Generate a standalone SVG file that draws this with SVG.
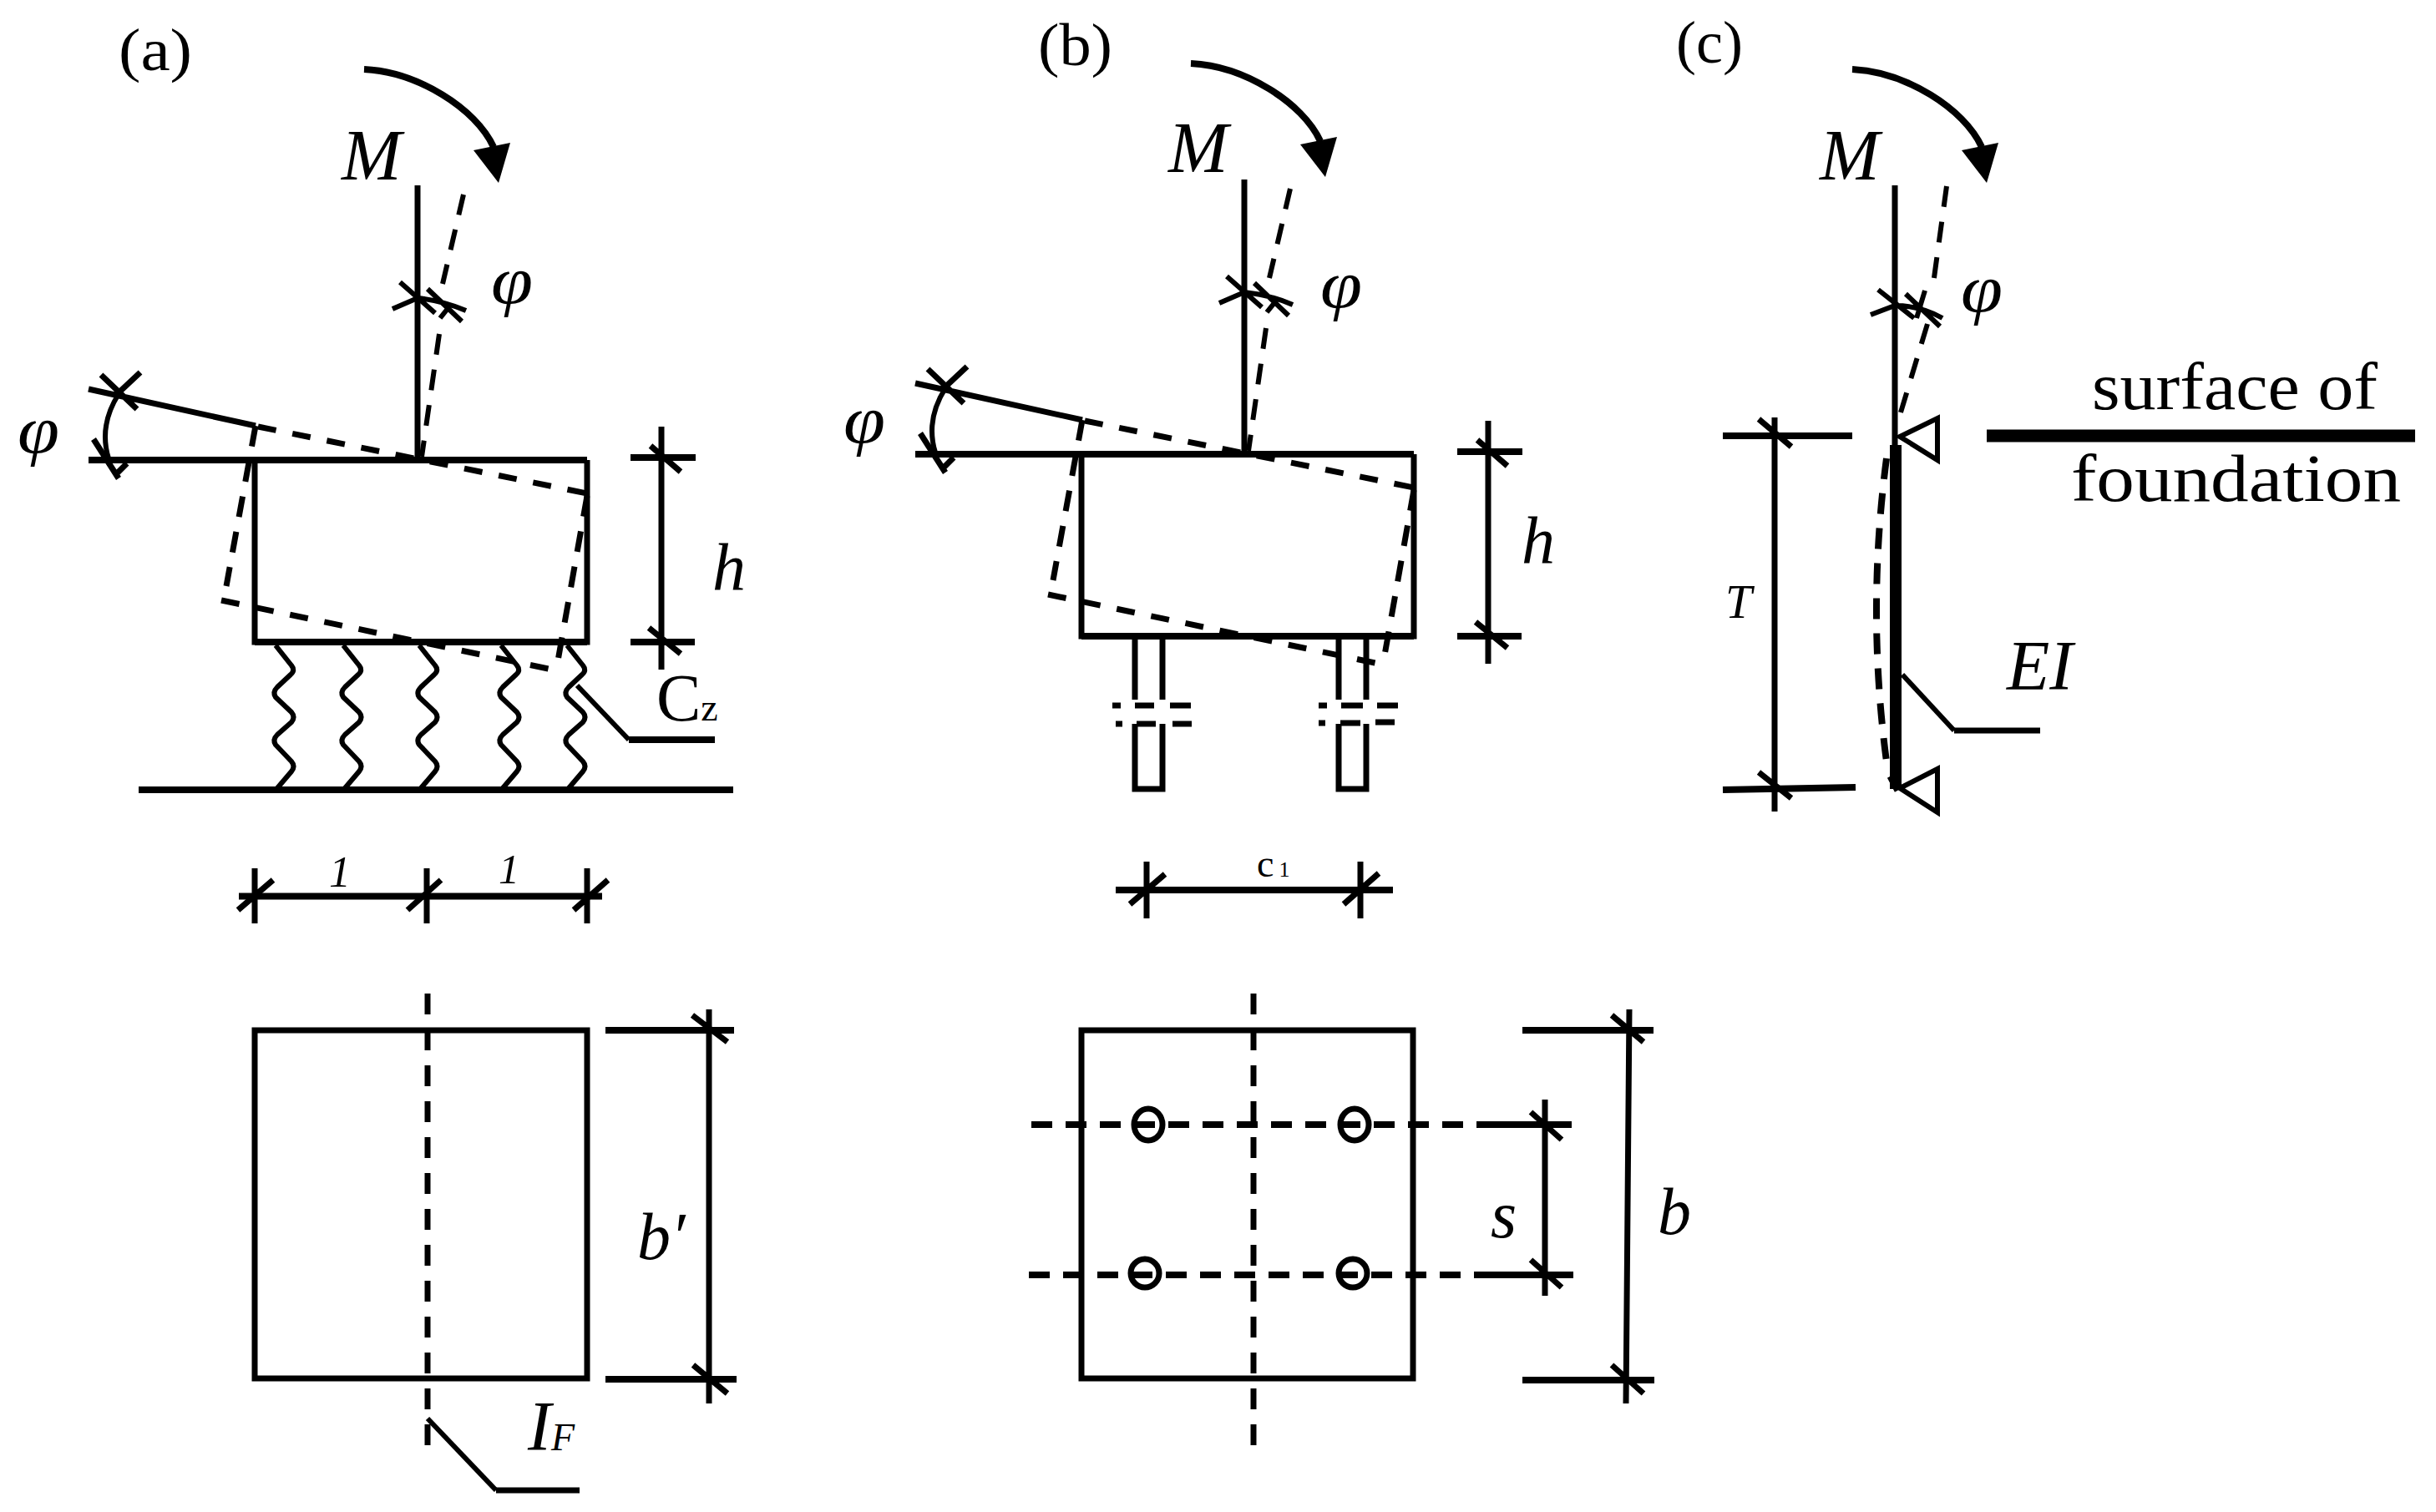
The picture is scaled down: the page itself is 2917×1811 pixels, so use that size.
<svg xmlns="http://www.w3.org/2000/svg" width="2917" height="1811" viewBox="0 0 2917 1811">
<style>
.s{fill:none;stroke:#000;stroke-width:8}
.m{fill:none;stroke:#000;stroke-width:7}
.n{fill:none;stroke:#000;stroke-width:6}
.d{fill:none;stroke:#000;stroke-width:7;stroke-dasharray:25 18}
.t{fill:none;stroke:#000;stroke-width:7;stroke-dasharray:22 20}
.d2{fill:none;stroke:#000;stroke-width:8;stroke-dasharray:25 17}
text{font-family:"Liberation Serif","Times New Roman",serif;fill:#000}
.i{font-style:italic;font-size:86px}
.p{font-size:72px}
.v{font-style:italic;font-size:80px}
.f{font-size:80px}
</style>
<defs>
<path id="spring" class="n" stroke-linejoin="round" d="M0 773L19 797Q24 803 18 808L2 823Q-4 829 0 835L19 853Q24 859 19 865L2 880Q-4 886 0 892L19 912Q24 918 19 924L2 944"/>
<g id="head">
<path class="s" d="M436 83C500 86 570 130 591 176"/>
<path d="M567 180L611 171L597 219Z"/>
<path class="m" d="M500 222V551"/>
<path class="n" stroke-dasharray="25 18" d="M555 233L530 340M526 400L505 547"/>
<path class="n" d="M479 338L521 375M470 370L500 357Q530 360 558 372M512 346L553 385M527 381L539 366"/>
<path class="m" d="M106 466L306 510M121 449L164 490M168 446L136 476M112 526L142 573M152 555L138 569"/>
<path class="n" d="M142 472Q118 510 130 549"/>
<path class="s" d="M106 551H703"/>
<path class="t" d="M309 511L703 591"/>
<path class="d" d="M703 594L666 803"/>
<path class="t" d="M265 719L666 803"/>
<path class="d" d="M306 510L271 702"/>
<path class="m" d="M305 551V769H703V551"/>
<path class="s" d="M305 769H703"/>
<path class="m" d="M792 511V802M779 534L815 565M777 752L815 783"/>
<path class="s" d="M755 548H833M755 769H832"/>
</g>
<g id="arrowc">
<path class="s" d="M2218 83C2282 86 2352 130 2373 176"/>
<path d="M2349 180L2393 171L2379 219Z"/>
</g>
<g id="pileleg">
<path class="m" d="M0 762V838M33 762V838"/>
<path class="m" d="M0 867V945H33V867"/>
</g>
</defs>

<g id="panel-a">
<text class="p" x="142" y="84" textLength="88" lengthAdjust="spacingAndGlyphs">(a)</text>
<text class="i" x="409" y="215">M</text>
<text class="v" x="588" y="363" textLength="50" lengthAdjust="spacingAndGlyphs">φ</text>
<text class="v" x="21" y="542" textLength="50" lengthAdjust="spacingAndGlyphs">φ</text>
<text class="f" font-style="italic" x="853" y="706">h</text>
<text font-size="80" x="786" y="863">C<tspan font-size="46">z</tspan></text>
<text class="i" style="font-size:52px" x="394" y="1062">1</text>
<text class="i" style="font-size:50px" x="597" y="1058">1</text>
<text class="f" font-style="italic" x="763" y="1508">b′</text>
<text class="i" style="font-size:84px" x="632" y="1737">I<tspan style="font-size:46px">F</tspan></text>
</g>

<g id="panel-a-footing"><use href="#head"/></g>

<g id="panel-a-springs">
<use href="#spring" x="330"/><use href="#spring" x="411"/><use href="#spring" x="502"/><use href="#spring" x="600"/><use href="#spring" x="679"/>
<path class="s" d="M166 946H878"/>
<path class="n" d="M691 821L753 886"/><path class="s" d="M753 886H856"/>
</g>

<g id="panel-a-dim">
<path class="s" d="M286 1073.500H721"/>
<path class="m" d="M305 1040V1106M511 1040V1106M703 1040V1106M327 1054L285 1090M528 1054L488 1090M728 1054L687 1090"/>
</g>

<g id="panel-a-plan">
<rect class="m" x="305" y="1234" width="398" height="417"/>
<path class="d" d="M512 1190V1740"/>
<path class="n" d="M512 1699L594 1785"/><path class="m" d="M594 1785H694"/>
<path class="s" d="M725 1234H879M725 1652H882"/>
<path class="m" d="M849 1209V1681M829 1216L871 1248M830 1635L871 1669"/>
</g>

<g id="panel-b">
<text class="p" x="1243" y="78" textLength="89" lengthAdjust="spacingAndGlyphs">(b)</text>
<text class="i" x="1399" y="206">M</text>
<text class="v" x="1581" y="368" textLength="50" lengthAdjust="spacingAndGlyphs">φ</text>
<text class="v" x="1010" y="530" textLength="50" lengthAdjust="spacingAndGlyphs">φ</text>
<text class="f" font-style="italic" x="1822" y="674">h</text>
<text x="1505" y="1050" font-size="46">c<tspan font-size="26" dx="6">1</tspan></text>
<text class="f" font-style="italic" x="1785" y="1482">s</text>
<text class="f" font-style="italic" x="1985" y="1478">b</text>
</g>

<g id="panel-b-footing"><use href="#head" x="990" y="-7"/></g>

<g id="panel-b-piles">
<use href="#pileleg" x="1359"/><use href="#pileleg" x="1603"/>
<path class="m" d="M1332 845H1342M1359 845H1382M1401 845H1426M1336 867H1344M1361 867H1384M1404 867H1427M1579 845H1589M1606 845H1632M1649 845H1674M1579 866H1587M1605 866H1629M1647 865H1670"/>
<path class="s" d="M1336 1066H1668"/>
<path class="m" d="M1373 1032V1100M1629 1032V1100M1395 1047L1353 1083M1651 1046L1609 1083"/>
</g>

<g id="panel-b-plan">
<rect class="m" x="1295" y="1234" width="397" height="417"/>
<path class="d" d="M1501 1190V1740"/>
<path class="s" stroke-dasharray="25 16" d="M1235 1347H1773"/>
<path class="s" d="M1773 1347H1882"/>
<path class="s" stroke-dasharray="25 16" d="M1232 1527H1787"/>
<path class="s" d="M1787 1527H1884"/>
<g fill="none" stroke="#000" stroke-width="7">
<ellipse cx="1375" cy="1347" rx="17" ry="19"/><ellipse cx="1622" cy="1347" rx="17" ry="19"/><ellipse cx="1371" cy="1525" rx="17" ry="17"/><ellipse cx="1620" cy="1525" rx="17" ry="17"/>
</g>
<path class="m" d="M1850 1317V1552M1833 1332L1870 1365M1833 1509L1870 1542"/>
<path class="s" d="M1823 1234H1980M1823 1653H1981"/>
<path class="m" d="M1951 1209L1947 1681M1930 1216L1968 1248M1930 1635L1968 1669"/>
</g>

<g id="panel-c">
<text class="p" x="2007" y="75" textLength="80" lengthAdjust="spacingAndGlyphs">(c)</text>
<text class="i" x="2179" y="215">M</text>
<text class="v" x="2348" y="373" textLength="50" lengthAdjust="spacingAndGlyphs">φ</text>
<text class="i" style="font-size:84px" x="2403" y="826">EI</text>
<text class="i" style="font-size:57px" x="2066" y="740">T</text>
<text class="f" x="2505" y="490" textLength="342" lengthAdjust="spacingAndGlyphs">surface of</text>
<text class="f" x="2480" y="600" textLength="395" lengthAdjust="spacingAndGlyphs">foundation</text>
</g>

<g id="panel-c-pile">
<use href="#arrowc"/>
<path class="m" d="M2269 222V540"/>
<path class="n" stroke-dasharray="25 18" d="M2331 223L2315 340M2308 388L2276 494"/>
<path class="n" d="M2249 347L2292 381M2240 377L2269 366Q2300 366 2326 381M2282 352L2323 391M2295 381L2305 348"/>
<path class="n" d="M2275 523L2320 501V551ZM2275 944L2320 921V973Z"/>
<path fill="none" stroke="#000" stroke-width="14" d="M2270 533V945"/>
<path class="d2" d="M2259 549Q2235 732 2259 912"/>
<path class="m" d="M2263 930L2272 947"/>
<path class="n" d="M2278 808L2340 875"/><path class="m" d="M2340 875H2443"/>
<path class="s" d="M2063 522H2218M2063 946L2222 943"/>
<path class="m" d="M2125 500V972M2106 502L2145 535M2106 925L2145 956"/>
<path fill="none" stroke="#000" stroke-width="15" d="M2379 522H2892"/>
</g>
</svg>
